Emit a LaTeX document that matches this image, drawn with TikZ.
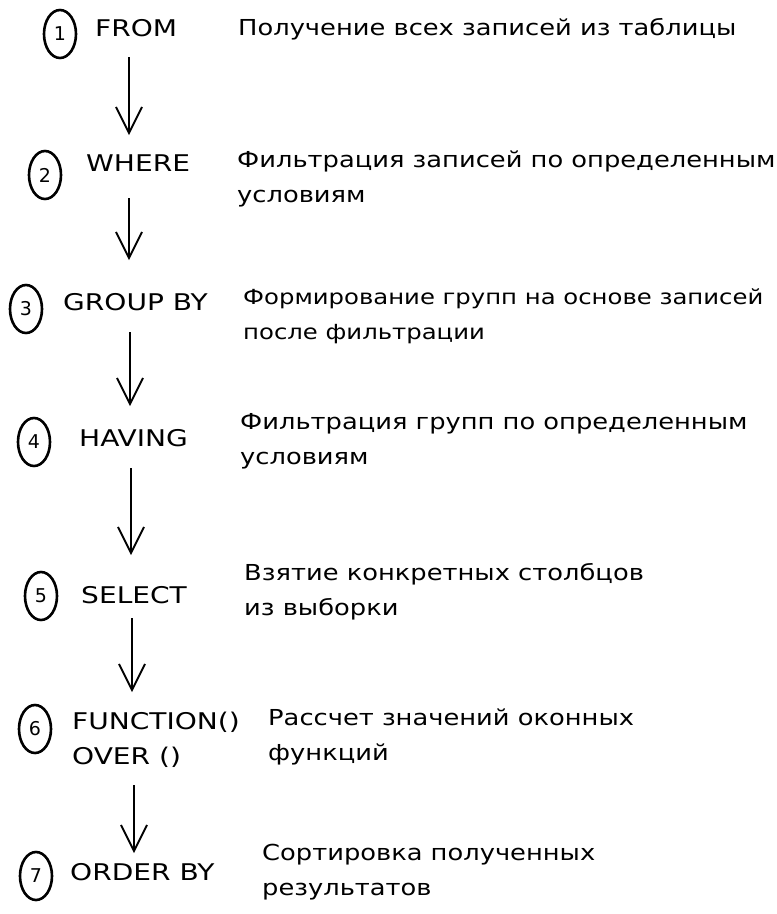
\documentclass[tikz,border=0pt]{standalone}
\usepackage{fontspec}
\setmainfont{DejaVu Sans}
\newfontfamily\kwfont[FakeStretch=1.22]{DejaVu Sans}
\newfontfamily\descfont[FakeStretch=1.17]{DejaVu Sans}
\usetikzlibrary{arrows.meta,shapes.geometric}
\begin{document}
\begin{tikzpicture}[x=1pt,y=-1pt,
  num/.style={draw, ellipse, line width=2.6pt, minimum width=32pt, minimum height=48pt, inner sep=0pt, font=\fontsize{19}{19}\selectfont},
  kw/.style={anchor=west, inner sep=0pt, font=\kwfont\fontsize{23}{35}\selectfont, align=left},
  desc/.style={anchor=west, inner sep=0pt, font=\descfont\fontsize{22}{35}\selectfont, align=left},
  flow/.style={line width=2.2pt, -{Straight Barb[length=26pt,width=26pt,line width=1.8pt]}}]
\fill[white] (0,0) rectangle (777,914);
\useasboundingbox (0,0) rectangle (777,914);

% step circles
\node[num] (n1) at (60,34) {1};
\node[num] (n2) at (45,175) {2};
\node[num] (n3) at (26,309) {3};
\node[num] (n4) at (34,442) {4};
\node[num] (n5) at (41,596) {5};
\node[num] (n6) at (35,729) {6};
\node[num] (n7) at (36,876) {7};

% keywords
\node[kw] (k1) at (95,28) {FROM};
\node[kw] (k2) at (86,163) {WHERE};
\node[kw] (k3) at (63,302) {GROUP BY};
\node[kw] (k4) at (79,438) {HAVING};
\node[kw] (k5) at (81,595) {SELECT};
\node[kw] (k6) at (72,740) {FUNCTION()\\OVER ()};
\node[kw] (k7) at (70,872) {ORDER BY};

% descriptions
\node[desc] (d1) at (238,29) {Получение всех записей из таблицы};
\node[desc] (d2) at (237,179) {Фильтрация записей по определенным\\условиям};
\node[desc, font=\descfont\fontsize{20.8}{35}\selectfont] (d3) at (243,316) {Формирование групп на основе записей\\после фильтрации};
\node[desc] (d4) at (240,441) {Фильтрация групп по определенным\\условиям};
\node[desc] (d5) at (244,592) {Взятие конкретных столбцов\\из выборки};
\node[desc] (d6) at (268,737) {Рассчет значений оконных\\функций};
\node[desc] (d7) at (262,872) {Сортировка полученных\\результатов};

% arrow ends
\coordinate (a1s) at (129,57);  \coordinate (a1e) at (129,135);
\coordinate (a2s) at (129,198); \coordinate (a2e) at (129,260);
\coordinate (a3s) at (130,332); \coordinate (a3e) at (130,406);
\coordinate (a4s) at (131,468); \coordinate (a4e) at (131,555);
\coordinate (a5s) at (132,618); \coordinate (a5e) at (132,692);
\coordinate (a6s) at (134,785); \coordinate (a6e) at (134,853);

\draw[flow] (a1s) -- (a1e);
\draw[flow] (a2s) -- (a2e);
\draw[flow] (a3s) -- (a3e);
\draw[flow] (a4s) -- (a4e);
\draw[flow] (a5s) -- (a5e);
\draw[flow] (a6s) -- (a6e);
\end{tikzpicture}
\end{document}
